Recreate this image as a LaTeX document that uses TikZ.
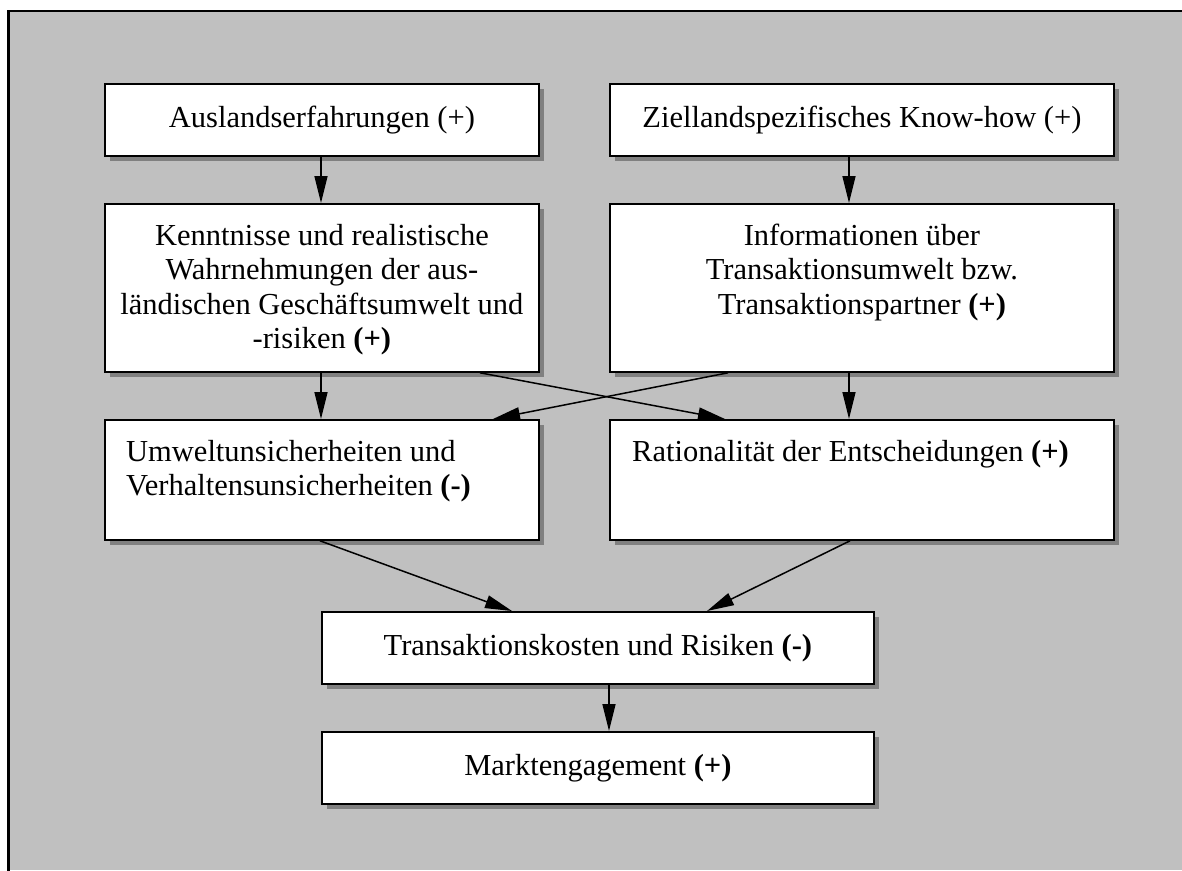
\documentclass[tikz,border=0pt]{standalone}
\usepackage{fontspec}
\setmainfont{Liberation Serif}
\usetikzlibrary{arrows.meta,shadows}
\definecolor{panel}{HTML}{C0C0C0}
\definecolor{shade}{HTML}{808080}
\begin{document}
\begin{tikzpicture}[x=1pt,y=-1pt,
  box/.style={draw, line width=1.8pt, fill=white, inner sep=0pt, anchor=north west,
    drop shadow={shadow xshift=5.5pt, shadow yshift=-5.5pt, fill=shade, opacity=1}},
  boxtext/.style={inner sep=0pt, font=\fontsize{30.5}{34.5}\selectfont},
  arr/.style={line width=1.5pt, -{Triangle[length=27pt,width=13pt]}}]
\useasboundingbox (0,0) rectangle (1182,870);
\fill[white] (0,0) rectangle (1182,870);
% grey panel, open to the right and bottom
\fill[panel] (8.5,11) rectangle (1182,870);
\draw[line width=2.5pt, line cap=rect] (8.5,870) -- (8.5,11) -- (1182,11);

% boxes
\node[box, minimum width=434pt, minimum height=72pt]  (b1) at (104,83)  {};
\node[box, minimum width=504pt, minimum height=72pt]  (b2) at (609,83)  {};
\node[box, minimum width=434pt, minimum height=168pt] (b3) at (104,203) {};
\node[box, minimum width=504pt, minimum height=168pt] (b4) at (609,203) {};
\node[box, minimum width=434pt, minimum height=120pt] (b5) at (104,419) {};
\node[box, minimum width=504pt, minimum height=120pt] (b6) at (609,419) {};
\node[box, minimum width=552pt, minimum height=72pt]  (b7) at (321,611) {};
\node[box, minimum width=552pt, minimum height=72pt]  (b8) at (321,731) {};

% texts (multi-line nodes are anchored on the baseline of their last line)
\node[boxtext, anchor=base] (t1) at ([yshift=-44pt]b1.north) {Auslandserfahrungen (+)};
\node[boxtext, anchor=base] (t2) at ([yshift=-44pt]b2.north) {Ziellandspezifisches Know-how (+)};
\node[boxtext, anchor=base, align=center] (t3) at ([yshift=-145.5pt]b3.north)
  {Kenntnisse und realistische\\Wahrnehmungen der aus-\\ländischen Geschäftsumwelt und\\-risiken \textbf{(+)}};
\node[boxtext, anchor=base, align=center] (t4) at ([yshift=-111pt]b4.north)
  {Informationen über\\Transaktionsumwelt bzw.\\Transaktionspartner \textbf{(+)}};
\node[boxtext, anchor=base west, align=left] (t5) at ([xshift=22pt,yshift=-76.5pt]b5.north west)
  {Umweltunsicherheiten und\\Verhaltensunsicherheiten \textbf{(-)}};
\node[boxtext, anchor=base west] (t6) at ([xshift=23pt,yshift=-42pt]b6.north west)
  {Rationalität der Entscheidungen \textbf{(+)}};
\node[boxtext, anchor=base] (t7) at ([yshift=-44pt]b7.north) {Transaktionskosten und Risiken \textbf{(-)}};
\node[boxtext, anchor=base] (t8) at ([yshift=-44pt]b8.north) {Marktengagement \textbf{(+)}};

% connectors
\draw[arr] ([xshift=217pt]b1.south west) -- ([xshift=217pt]b3.north west);
\draw[arr] ([xshift=240pt]b2.south west) -- ([xshift=240pt]b4.north west);
\draw[arr] ([xshift=217pt]b3.south west) -- ([xshift=217pt]b5.north west);
\draw[arr] ([xshift=240pt]b4.south west) -- ([xshift=240pt]b6.north west);
\draw[arr] ([xshift=376pt]b3.south west) -- ([xshift=116pt]b6.north west);
\draw[arr] ([xshift=119pt]b4.south west) -- ([xshift=389pt]b5.north west);
\draw[arr] ([xshift=216pt]b5.south west) -- ([xshift=191pt]b7.north west);
\draw[arr] ([xshift=241pt]b6.south west) -- ([xshift=386pt]b7.north west);
\draw[arr] ([xshift=288pt]b7.south west) -- ([xshift=288pt]b8.north west);
\end{tikzpicture}
\end{document}
